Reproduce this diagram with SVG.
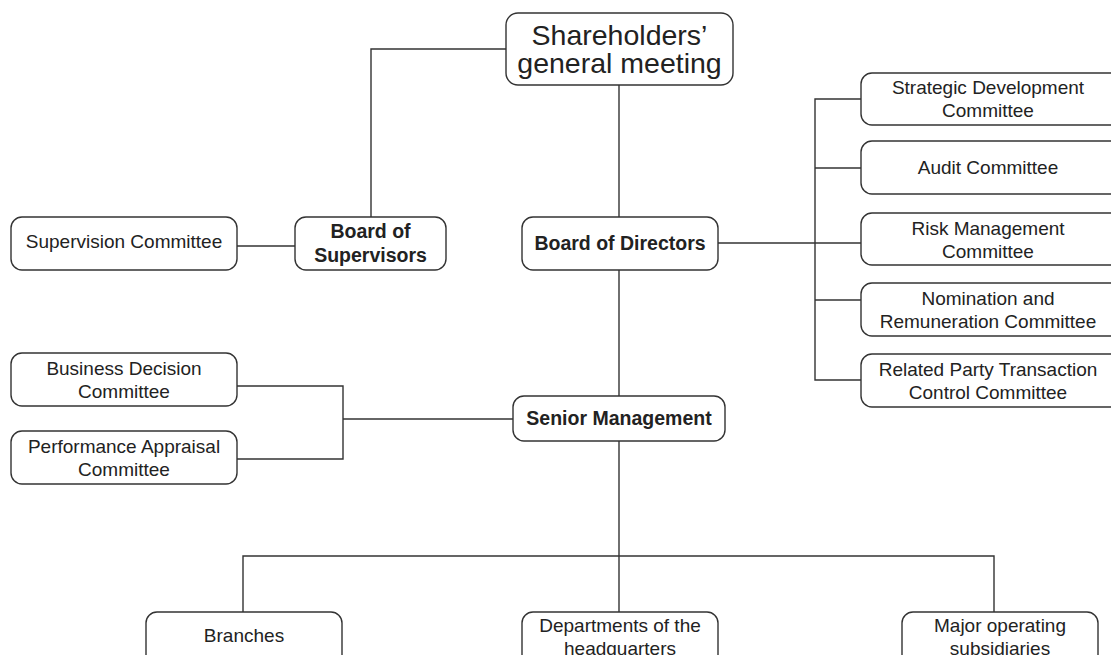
<svg xmlns="http://www.w3.org/2000/svg" width="1111" height="655" viewBox="0 0 1111 655">
<style>
.box{fill:#fff;stroke:#333;stroke-width:1.4}
.ln{fill:none;stroke:#333;stroke-width:1.4}
text{font-family:"Liberation Sans",Arial,Helvetica,sans-serif;fill:#222;text-anchor:middle}
.r{font-size:19px}
.b{font-size:19.5px;font-weight:bold}
.t{font-size:28.5px}
</style>
<rect width="1111" height="655" fill="#fff"/>
<g id="connectors">
<path class="ln" d="M506 49H371V217"/>
<path class="ln" d="M619 85V217"/>
<path class="ln" d="M237 246H295"/>
<path class="ln" d="M718 243H861"/>
<path class="ln" d="M861 99H815V380H861"/>
<path class="ln" d="M815 168H861"/>
<path class="ln" d="M815 300H861"/>
<path class="ln" d="M619 270V396"/>
<path class="ln" d="M237 386H343V459H237"/>
<path class="ln" d="M343 419H513"/>
<path class="ln" d="M619 441V612"/>
<path class="ln" d="M243 612V556H994V612"/>
</g>
<g id="shareholders">
<rect class="box" x="506" y="13" width="227" height="72" rx="12"/>
<text class="t" x="619.5" y="45">Shareholders’</text>
<text class="t" x="619.5" y="73">general meeting</text>
</g>
<g id="supervision-committee">
<rect class="box" x="11" y="217" width="226" height="53" rx="11"/>
<text class="r" x="124" y="248">Supervision Committee</text>
</g>
<g id="board-of-supervisors">
<rect class="box" x="295" y="217" width="151" height="53" rx="11"/>
<text class="b" x="370.5" y="238">Board of</text>
<text class="b" x="370.5" y="262">Supervisors</text>
</g>
<g id="board-of-directors">
<rect class="box" x="522" y="217" width="196" height="53" rx="11"/>
<text class="b" x="620" y="250">Board of Directors</text>
</g>
<g id="strategic">
<rect class="box" x="861" y="73" width="260" height="52" rx="11"/>
<text class="r" x="988" y="94">Strategic Development</text>
<text class="r" x="988" y="117">Committee</text>
</g>
<g id="audit">
<rect class="box" x="861" y="141" width="260" height="53" rx="11"/>
<text class="r" x="988" y="174">Audit Committee</text>
</g>
<g id="risk">
<rect class="box" x="861" y="213" width="260" height="52" rx="11"/>
<text class="r" x="988" y="235">Risk Management</text>
<text class="r" x="988" y="258">Committee</text>
</g>
<g id="nomination">
<rect class="box" x="861" y="283" width="260" height="53" rx="11"/>
<text class="r" x="988" y="305">Nomination and</text>
<text class="r" x="988" y="328">Remuneration Committee</text>
</g>
<g id="related-party">
<rect class="box" x="861" y="354" width="260" height="53" rx="11"/>
<text class="r" x="988" y="376">Related Party Transaction</text>
<text class="r" x="988" y="399">Control Committee</text>
</g>
<g id="business-decision">
<rect class="box" x="11" y="353" width="226" height="53" rx="11"/>
<text class="r" x="124" y="375">Business Decision</text>
<text class="r" x="124" y="398">Committee</text>
</g>
<g id="performance-appraisal">
<rect class="box" x="11" y="431" width="226" height="53" rx="11"/>
<text class="r" x="124" y="453">Performance Appraisal</text>
<text class="r" x="124" y="476">Committee</text>
</g>
<g id="senior-management">
<rect class="box" x="513" y="396" width="212" height="45" rx="11"/>
<text class="b" x="619" y="425">Senior Management</text>
</g>
<g id="branches">
<rect class="box" x="146" y="612" width="196" height="60" rx="11"/>
<text class="r" x="244" y="642">Branches</text>
</g>
<g id="departments">
<rect class="box" x="522" y="612" width="196" height="60" rx="11"/>
<text class="r" x="620" y="632">Departments of the</text>
<text class="r" x="620" y="655">headquarters</text>
</g>
<g id="subsidiaries">
<rect class="box" x="902" y="612" width="196" height="60" rx="11"/>
<text class="r" x="1000" y="632">Major operating</text>
<text class="r" x="1000" y="655">subsidiaries</text>
</g>
</svg>
